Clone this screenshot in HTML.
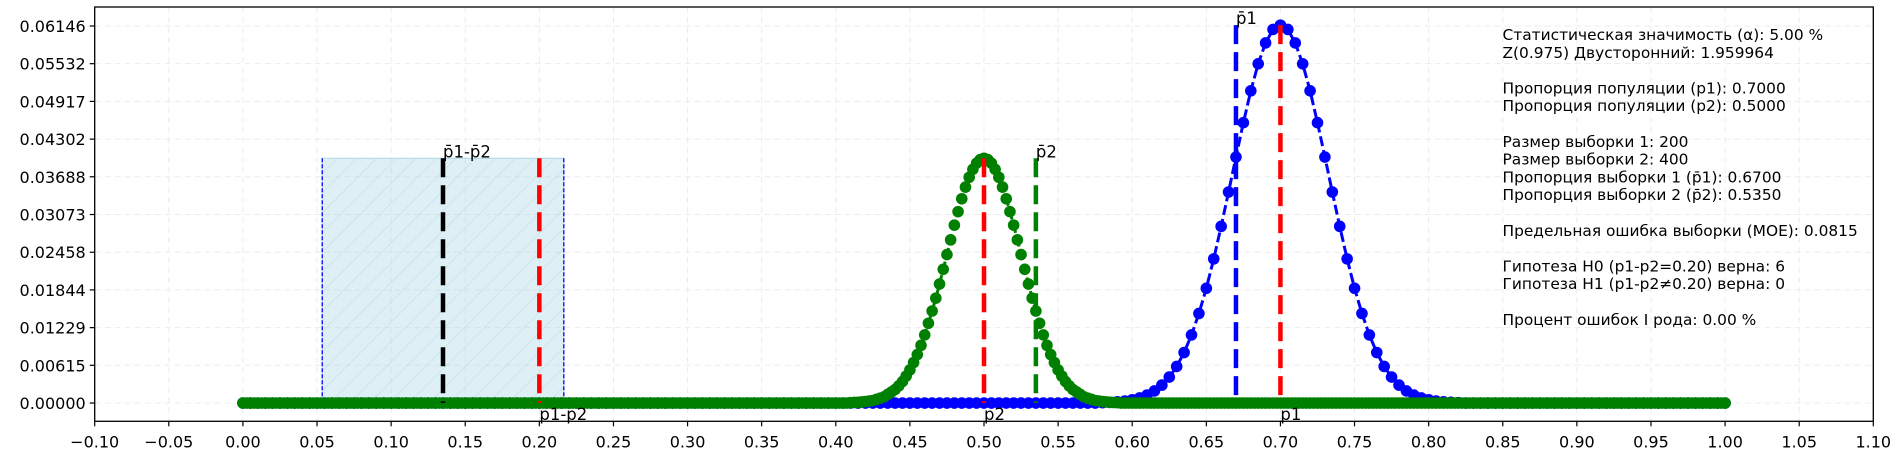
<!DOCTYPE html>
<html><head><meta charset="utf-8">
<style>
body{margin:0;background:#fff;}
svg{display:block;font-family:"DejaVu Sans","Liberation Sans",sans-serif;}
</style></head>
<body>
<svg id="chart" width="1900" height="458" viewBox="0 0 1900 458" xmlns="http://www.w3.org/2000/svg">
<defs>
<pattern id="hatch" patternUnits="userSpaceOnUse" width="14" height="14" patternTransform="rotate(45)">
<line x1="0" y1="0" x2="0" y2="14" stroke="#b8dbe8" stroke-width="1.2"/>
</pattern>
</defs>
<g id="grid"></g>
<g id="ci"></g>
<g id="series"></g>
<g id="vlines"></g>
<g id="axes"></g>
<g id="info"></g>
</svg>
<script>
const xTicks = [-0.10,-0.05,0.00,0.05,0.10,0.15,0.20,0.25,0.30,0.35,0.40,0.45,0.50,0.55,0.60,0.65,0.70,0.75,0.80,0.85,0.90,0.95,1.00,1.05,1.10];
const yTicks = [0.00000,0.00615,0.01229,0.01844,0.02458,0.03073,0.03688,0.04302,0.04917,0.05532,0.06146];
const blueN = 200;
const blueStartK = 116;
const blueValues = [0.00006,0.00011,0.00019,0.00032,0.00053,0.00084,0.0013,0.00197,0.00292,0.00423,0.00596,0.00823,0.0111,0.0146,0.0187,0.0235,0.0288,0.0344,0.0401,0.0457,0.0509,0.0553,0.0587,0.0609,0.0616,0.0609,0.0587,0.0553,0.0509,0.0457,0.0401,0.0344,0.0288,0.0235,0.0187,0.0146,0.0111,0.00823,0.00596,0.00423,0.00292,0.00197,0.0013,0.00084,0.00053,0.00032,0.00019,0.00011,0.00006];
const greenN = 400;
const greenStartK = 164;
const greenValues = [0.00006,0.00009,0.00012,0.00017,0.00024,0.00033,0.0004,0.0006,0.0008,0.0010,0.0014,0.0018,0.0022,0.0028,0.0035,0.0044,0.0054,0.0066,0.0079,0.0094,0.0111,0.0130,0.0150,0.0171,0.0194,0.0218,0.0242,0.0266,0.0290,0.0312,0.0333,0.0352,0.0368,0.0381,0.0391,0.0397,0.0399,0.0397,0.0391,0.0381,0.0368,0.0352,0.0333,0.0312,0.0290,0.0266,0.0242,0.0218,0.0194,0.0171,0.0150,0.0130,0.0111,0.0094,0.0079,0.0066,0.0054,0.0044,0.0035,0.0028,0.0022,0.0018,0.0014,0.0010,0.0008,0.0006,0.0004,0.00033,0.00024,0.00017,0.00012,0.00009,0.00006];
const refX = [0.67,0.70,0.50,0.535,0.135,0.20];
const refH = [0.0616,0.0616,0.0399,0.0399,0.0399,0.0399];
const refColor = ['#0000ff','#ff0000','#ff0000','#008000','#000000','#ff0000'];
const refNames = ['p1-sample-line','p1-population-line','p2-population-line','p2-sample-line','diff-sample-line','diff-population-line'];
const ciRange = [0.0535,0.2165];
const ciHeight = 0.0399;
const topLabels = ['p̄1','p̄2','p̄1-p̄2'];
const topLabelX = [0.67,0.535,0.135];
const topLabelY = [0.0616,0.0399,0.0399];
const bottomLabels = ['p1','p2','p1-p2'];
const bottomLabelX = [0.70,0.50,0.20];
const infoLines = ['Статистическая значимость (α): 5.00 %','Z(0.975) Двусторонний: 1.959964','','Пропорция популяции (p1): 0.7000','Пропорция популяции (p2): 0.5000','','Размер выборки 1: 200','Размер выборки 2: 400','Пропорция выборки 1 (p̄1): 0.6700','Пропорция выборки 2 (p̄2): 0.5350','','Предельная ошибка выборки (MOE): 0.0815','','Гипотеза H0 (p1-p2=0.20) верна: 6','Гипотеза H1 (p1-p2≠0.20) верна: 0','','Процент ошибок I рода: 0.00 %'];

const L=94.7,R=1873.3,T=7,B=421.3,XMIN=-0.10,XMAX=1.10,YMIN=-0.00298,YMAX=0.06456;
const sx=v=>L+(v-XMIN)/(XMAX-XMIN)*(R-L);
const sy=v=>B-(v-YMIN)/(YMAX-YMIN)*(B-T);
const NS='http://www.w3.org/2000/svg';
function mk(tag,attrs,parent){const e=document.createElementNS(NS,tag);for(const k in attrs)e.setAttribute(k,attrs[k]);parent.appendChild(e);return e;}
const grid=document.getElementById('grid'),ci=document.getElementById('ci'),series=document.getElementById('series'),vl=document.getElementById('vlines'),axes=document.getElementById('axes'),info=document.getElementById('info');

xTicks.forEach(v=>{const e=mk('line',{x1:sx(v),x2:sx(v),y1:T,y2:B,stroke:'#ececec','stroke-width':1,'stroke-dasharray':'6,4'},grid);

});
yTicks.forEach(v=>{const e=mk('line',{x1:L,x2:R,y1:sy(v),y2:sy(v),stroke:'#ececec','stroke-width':1,'stroke-dasharray':'6,4'},grid);

});

{const x0=sx(ciRange[0]),x1=sx(ciRange[1]),y0=sy(ciHeight),y1=sy(0);
const r=mk('rect',{x:x0,y:y0,width:x1-x0,height:y1-y0,fill:'#add8e6','fill-opacity':0.4,stroke:'#add8e6','stroke-width':1},ci);


const h=mk('rect',{x:x0,y:y0,width:x1-x0,height:y1-y0,fill:'url(#hatch)','fill-opacity':0.8},ci);


[x0,x1].forEach(x=>{const e=mk('line',{x1:x,x2:x,y1:y0,y2:y1,stroke:'#0000ff','stroke-width':1.3,'stroke-dasharray':'4,2'},ci);

});}

function drawSeries(n,startK,vals,color,name){
  const pts=[];
  for(let k=0;k<=n;k++){const i=k-startK;const v=(i>=0&&i<vals.length)?vals[i]:0;pts.push([sx(k/n),sy(v)]);}
  const g=mk('g',{},series);
  
  
  const p=mk('polyline',{points:pts.map(p=>p.join(',')).join(' '),fill:'none',stroke:color,'stroke-width':3,'stroke-dasharray':'10,4'},g);
  
  
  pts.forEach(q=>{const c=mk('circle',{cx:q[0],cy:q[1],r:5.8,fill:color},g);
  
  });
}
drawSeries(blueN,blueStartK,blueValues,'#0000ff','sample1-distribution');
drawSeries(greenN,greenStartK,greenValues,'#008000','sample2-distribution');

refX.forEach((v,i)=>{const e=mk('line',{x1:sx(v),x2:sx(v),y1:sy(refH[i]),y2:sy(0),stroke:refColor[i],'stroke-width':4.5,'stroke-dasharray':'19,8'},vl);

});
topLabels.forEach((t,i)=>{const e=mk('text',{x:sx(topLabelX[i]),y:sy(topLabelY[i])-1,'font-size':16.5,fill:'#000'},vl);e.textContent=t;

});
bottomLabels.forEach((t,i)=>{const e=mk('text',{x:sx(bottomLabelX[i]),y:sy(0)+17,'font-size':16.5,fill:'#000'},vl);e.textContent=t;

});

{const f=mk('rect',{x:L,y:T,width:R-L,height:B-T,fill:'none',stroke:'#000','stroke-width':1.3},axes);

}
xTicks.forEach(v=>{mk('line',{x1:sx(v),x2:sx(v),y1:B,y2:B+5,stroke:'#000','stroke-width':1.2},axes);
const t=mk('text',{x:sx(v),y:B+26,'font-size':16,'text-anchor':'middle',fill:'#000'},axes);t.textContent=(v<0?'\u2212':'')+Math.abs(v).toFixed(2);

});
yTicks.forEach(v=>{mk('line',{x1:L-5,x2:L,y1:sy(v),y2:sy(v),stroke:'#000','stroke-width':1.2},axes);
const t=mk('text',{x:L-9,y:sy(v)+6,'font-size':16,'text-anchor':'end',fill:'#000'},axes);t.textContent=v.toFixed(5);

});

infoLines.forEach((s,i)=>{if(!s)return;const t=mk('text',{x:1502.5,y:40+i*17.8,'font-size':15.4,fill:'#000'},info);t.textContent=s;

});
</script>
</body></html>
